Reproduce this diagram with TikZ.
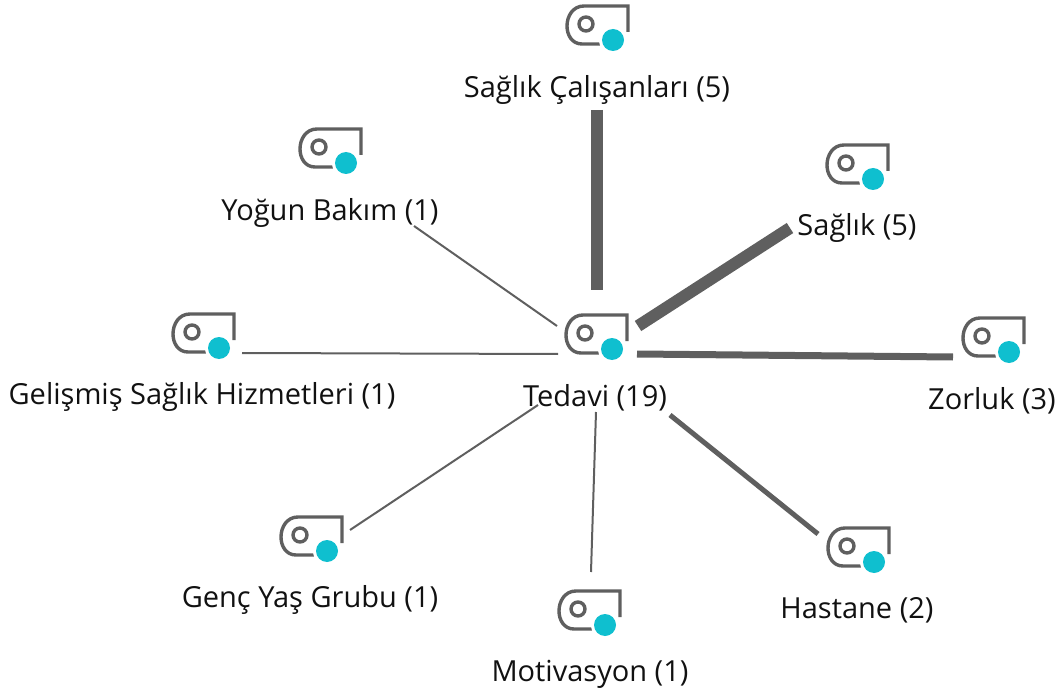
\documentclass[tikz,border=0pt]{standalone}
\usepackage{fontspec}
\setmainfont{Open Sans}
\usetikzlibrary{calc}
\definecolor{linegray}{HTML}{5F5F5F}
\definecolor{dotcyan}{HTML}{0FBFCF}
\definecolor{txt}{HTML}{111111}
\tikzset{
  x=1pt,y=-1pt,
  iconbox/.style={inner sep=0pt,minimum width=63pt,minimum height=39pt,outer sep=0pt},
  lab/.style={inner sep=0pt,text=txt,font=\fontsize{29}{33}\selectfont},
  edge/.style={draw=linegray,line cap=butt},
}
\newcommand{\iconat}[3]{%
  \node[iconbox] (#1) at (#2,#3) {};
  \begin{scope}[shift={(#2,#3)}]
    \draw[linegray,line width=3.4pt,line cap=butt,line join=miter]
      (3,20) -- (-15,20) .. controls (-25,20) and (-30,11) .. (-30,2)
      .. controls (-30,-8) and (-24,-18) .. (-13,-18) -- (31,-18) -- (31,8);
    \draw[linegray,line width=3.4pt] (-11,0) circle (7);
    \fill[white] (16,16) circle (14);
    \fill[dotcyan] (16,16) circle (11);
  \end{scope}}
\begin{document}
\begin{tikzpicture}
\useasboundingbox (0,0) rectangle (1058,695);
\iconat{hub}{596}{333}
\iconat{ic}{597}{24}
\iconat{is}{857}{163}
\iconat{iz}{993}{336}
\iconat{ih}{858}{546}
\iconat{im}{589}{609}
\iconat{ig}{311}{535}
\iconat{ige}{203}{332}
\iconat{iy}{330}{147}
\node[lab] (lc) at (597,90) {Sağlık Çalışanları (5)};
\node[lab] (ly) at (330,213) {Yoğun Bakım (1)};
\node[lab] (ls) at (857,228) {Sağlık (5)};
\node[lab] (lge) at (202,397) {Gelişmiş Sağlık Hizmetleri (1)};
\node[lab] (lt) at (595,398) {Tedavi (19)};
\node[lab] (lz) at (992,401) {Zorluk (3)};
\node[lab] (lg) at (310,600) {Genç Yaş Grubu (1)};
\node[lab] (lh) at (857,610) {Hastane (2)};
\node[lab] (lm) at (590,674) {Motivasyon (1)};
\draw[edge,line width=12pt] ($(lc.center)+(0,20)$) -- ($(hub)+(1,-43)$);
\draw[edge,line width=12pt] ($(ls.center)+(-67,0)$) -- ($(hub)+(42,-7)$);
\draw[edge,line width=7pt] ($(hub)+(41,21)$) -- ($(iz)+(-40,21)$);
\draw[edge,line width=5pt] ($(lt.center)+(75,17)$) -- ($(ih)+(-40,-12)$);
\draw[edge,line width=2pt] ($(lt.center)+(1,14)$) -- ($(im)+(2,-37)$);
\draw[edge,line width=2pt] ($(lt.center)+(-57,7)$) -- ($(ig)+(39,-5)$);
\draw[edge,line width=2pt] ($(ige)+(39,21)$) -- ($(hub)+(-38,21)$);
\draw[edge,line width=2pt] ($(ly.center)+(84,13)$) -- ($(hub)+(-39,-7)$);
\end{tikzpicture}
\end{document}
